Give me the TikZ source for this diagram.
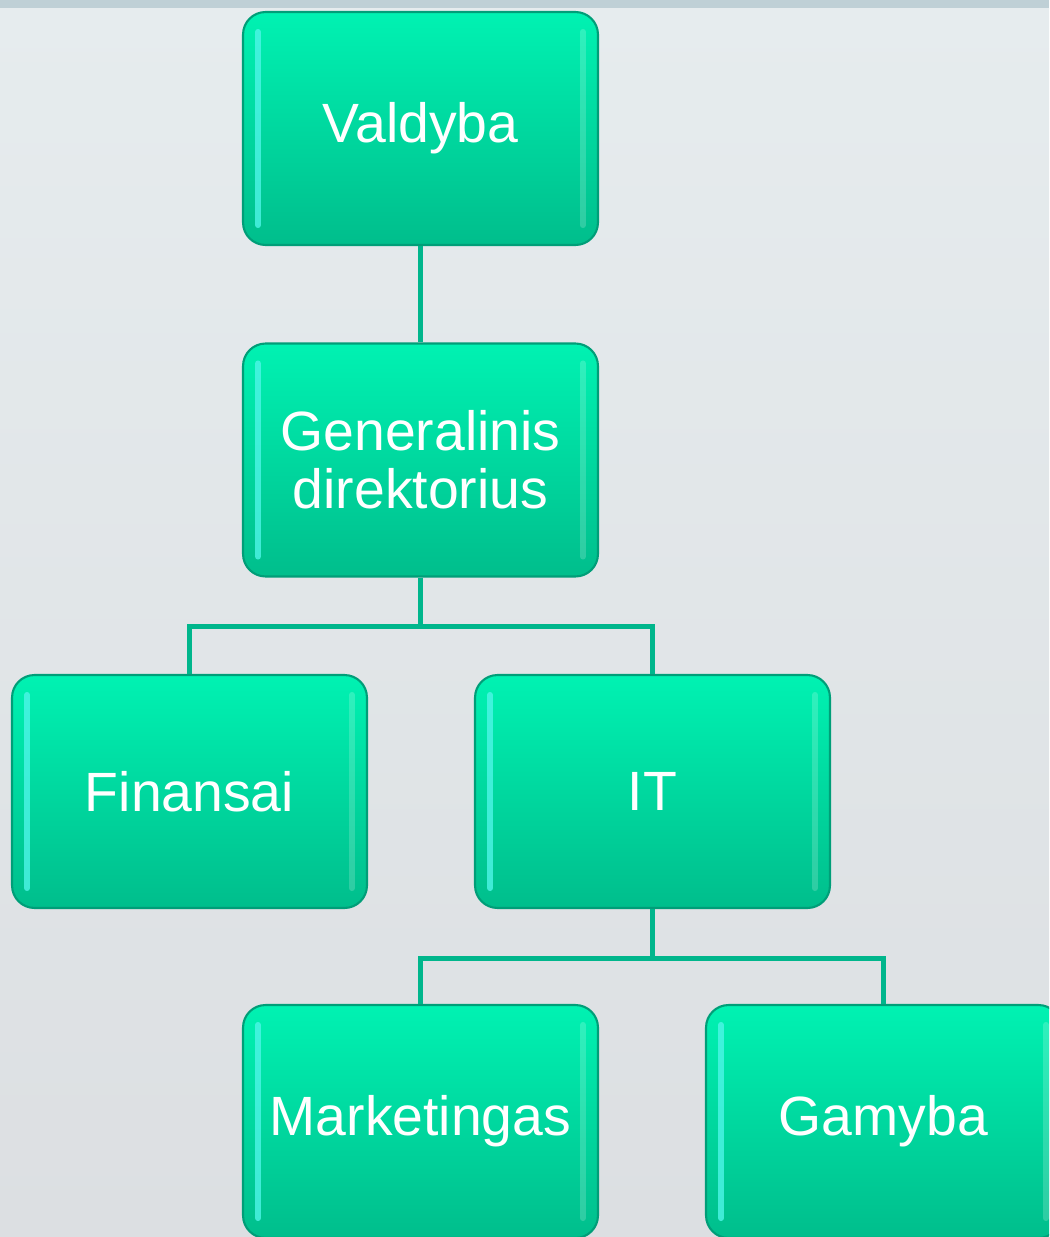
\documentclass[tikz,border=0pt]{standalone}
\usepackage{fontspec}
\setmainfont{Liberation Sans}
\usepackage{tikz}
\usetikzlibrary{calc}

\definecolor{UnitTop}{HTML}{00F2B2}
\definecolor{UnitBottom}{HTML}{00BE8C}
\definecolor{UnitEdge}{HTML}{009E78}
\definecolor{UnitGlow}{HTML}{4FF5E8}
\definecolor{LinkGreen}{HTML}{00B68C}
\definecolor{SkyTop}{HTML}{E6ECEE}
\definecolor{SkyBottom}{HTML}{DCDFE2}
\definecolor{SkyBand}{HTML}{BFD0D6}

\newcommand{\unitfont}{\fontsize{31.5}{33}\selectfont}

\tikzset{
  unit/.style={rounded corners=0.45cm, draw=UnitEdge, line width=1.2pt,
    top color=UnitTop, bottom color=UnitBottom,
    minimum width=7.1cm, minimum height=4.66cm, inner sep=0pt,
    text=white, font=\unitfont, align=center,
    path picture={
      \draw[UnitGlow, opacity=0.8, line width=3.5pt, line cap=round]
        ([xshift=0.3cm,yshift=-0.4cm]path picture bounding box.north west) --
        ([xshift=0.3cm,yshift=0.4cm]path picture bounding box.south west);
      \draw[white, opacity=0.18, line width=3.5pt, line cap=round]
        ([xshift=-0.3cm,yshift=-0.4cm]path picture bounding box.north east) --
        ([xshift=-0.3cm,yshift=0.4cm]path picture bounding box.south east);
    }},
  link/.style={draw=LinkGreen, line width=2.8pt}
}

\begin{document}
\begin{tikzpicture}[x=0.02cm, y=-0.02cm]
\useasboundingbox (0,0) rectangle (1049,1237);
\clip (0,0) rectangle (1049,1237);
\shade[top color=SkyTop, bottom color=SkyBottom] (0,0) rectangle (1049,1237);
\fill[SkyBand] (0,0) rectangle (1049,8);

\node[unit] (Valdyba) at (420.5,128.5) {Valdyba};
\node[unit] (Generalinis) at (420.5,460) {Generalinis\\direktorius};
\node[unit] (Finansai) at (189.5,791.5) {Finansai};
\node[unit] (IT) at (652.5,791.5) {IT};
\node[unit] (Marketingas) at (420.5,1121.5) {Marketingas};
\node[unit] (Gamyba) at (883.5,1121.5) {Gamyba};

\draw[link] (Valdyba) -- (Generalinis);
\draw[link] (Generalinis.south) -- ++(0,49) coordinate (GenBar) -| (Finansai.north);
\draw[link] (GenBar) -| (IT.north);
\draw[link] (IT.south) -- ++(0,49) coordinate (ITBar) -| (Marketingas.north);
\draw[link] (ITBar) -| (Gamyba.north);
\end{tikzpicture}
\end{document}
